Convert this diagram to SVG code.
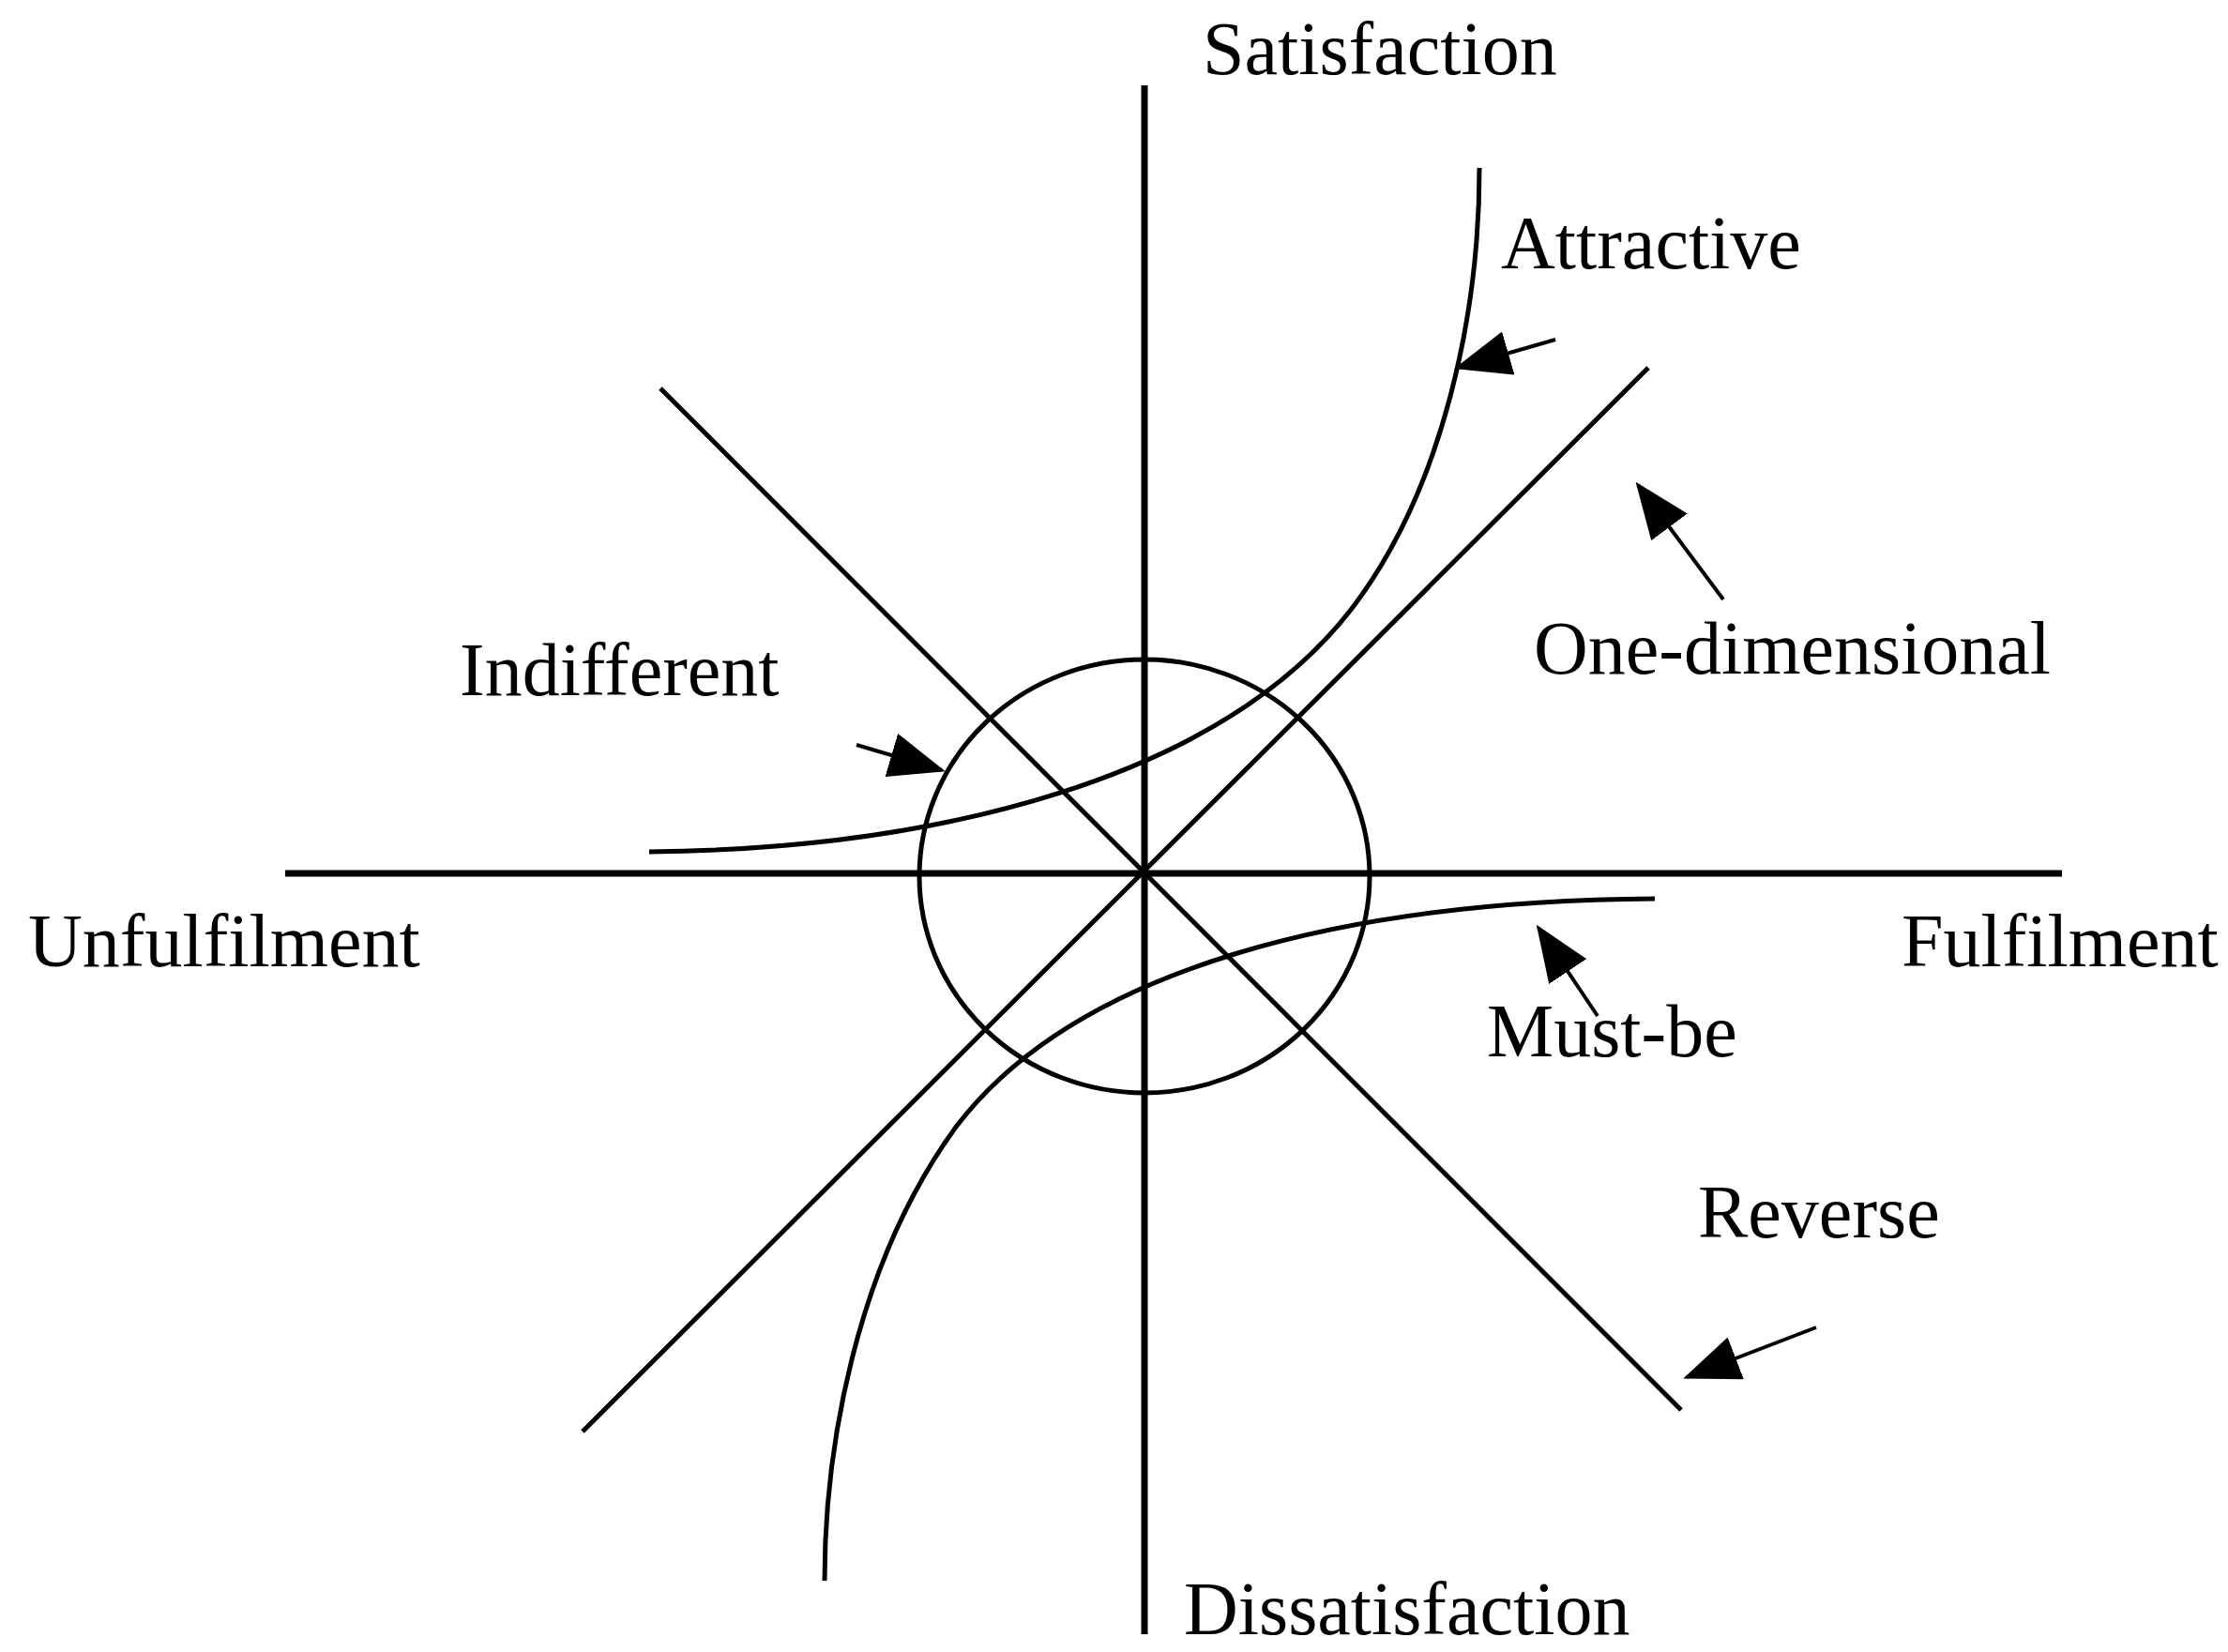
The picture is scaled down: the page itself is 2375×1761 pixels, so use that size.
<svg xmlns="http://www.w3.org/2000/svg" width="2375" height="1761" viewBox="0 0 2375 1761">
<style>
.l{stroke:#000;stroke-width:7;fill:none}
.c{stroke:#000;stroke-width:5;fill:none}
.a{stroke:#000;stroke-width:4;fill:none}
text{font-family:"Liberation Serif",serif;font-size:80px;fill:#000}
</style>
<defs><marker id="ah" markerWidth="15" markerHeight="12" refX="14" refY="6" orient="auto" markerUnits="strokeWidth"><path d="M0,0 L15,6 L0,12 Z" fill="#000"/></marker></defs>
<rect width="2375" height="1761" fill="#fff"/>
<g id="axes">
<line class="l" x1="1220" y1="91" x2="1220" y2="1742"/>
<line class="l" x1="304" y1="931" x2="2198" y2="931"/>
<line class="c" x1="621" y1="1526" x2="1757" y2="392"/>
<line class="c" x1="704" y1="414" x2="1792" y2="1503"/>
<ellipse class="c" cx="1220" cy="934" rx="240" ry="231"/>
</g>
<g id="curves">
<path class="c" d="M692,908 C1000,905 1300,830 1440,650 C1540,520 1577,330 1577,179"/>
<path class="c" d="M1764,958 C1440,960 1150,1030 1020,1200 C910,1350 879,1550 879,1685"/>
</g>
<g id="connectors">
<line class="a" x1="1658" y1="362" x2="1554" y2="392" marker-end="url(#ah)"/>
<line class="a" x1="1837" y1="639" x2="1746" y2="517" marker-end="url(#ah)"/>
<line class="a" x1="913" y1="794" x2="1004" y2="821" marker-end="url(#ah)"/>
<line class="a" x1="1703" y1="1083" x2="1640" y2="989" marker-end="url(#ah)"/>
<line class="a" x1="1936" y1="1415" x2="1798" y2="1468" marker-end="url(#ah)"/>
</g>
<g id="labels">
<text x="1282" y="79">Satisfaction</text>
<text x="1600" y="286">Attractive</text>
<text x="490" y="741">Indifferent</text>
<text x="1635" y="718">One-dimensional</text>
<text x="30" y="1030">Unfulfilment</text>
<text x="2027" y="1030">Fulfilment</text>
<text x="1585" y="1126">Must-be</text>
<text x="1810" y="1319">Reverse</text>
<text x="1262" y="1742">Dissatisfaction</text>
</g>
</svg>
